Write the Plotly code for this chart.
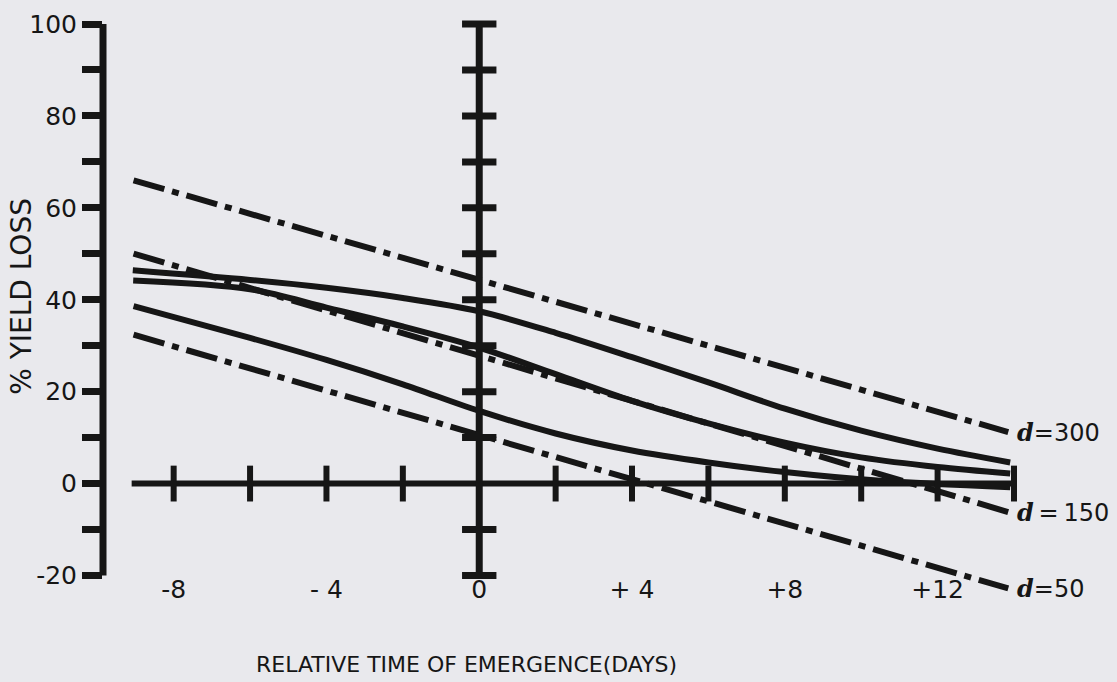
import plotly.graph_objects as go

# ---------------- data ----------------
# predicted (dash-dot) yield-loss lines for three weed densities
densities = [300, 150, 50]
pred_x = [-9.05, 13.85]
pred_300 = [66.0, 11.2]
pred_150 = [50.05, -6.2]
pred_50 = [32.4, -22.8]

# observed (solid) curves
obs_x_300 = [-9.07, -6, -4, -2, 0, 2, 4, 6, 8, 10, 12, 13.9]
obs_300 = [46.4, 44.3, 42.6, 40.4, 37.5, 32.8, 27.5, 22.0, 16.3, 11.5, 7.6, 4.6]
obs_x_150 = [-9.06, -6, -4, -2, 0, 2, 4, 6, 8, 10, 12, 13.9]
obs_150 = [44.2, 42.3, 38.3, 34.2, 29.6, 23.8, 18.0, 13.1, 8.9, 5.7, 3.6, 2.2]
obs_x_50 = [-9.05, -6, -4, -2, 0, 2, 4, 6, 8, 10.5, 13.9]
obs_50 = [38.6, 31.7, 26.9, 21.6, 15.8, 10.9, 7.2, 4.6, 2.5, 0.6, -0.8]

# axes
y_ticks = [-20, -10, 0, 10, 20, 30, 40, 50, 60, 70, 80, 90, 100]
y_ticktext = ["-20", "", "0", "", "20", "", "40", "", "60", "", "80", "", "100"]
x_label_vals = [-8, -4, 0, 4, 8, 12]
x_label_text = ["-8", "- 4", "0", "+ 4", "+8", "+12"]
cross_x_ticks = [-8, -6, -4, -2, 2, 4, 6, 8, 10, 12, 14]
cross_y_ticks = [-20, -10, 10, 20, 30, 40, 50, 60, 70, 80, 90, 100]
cross_x_extent = [-9.1, 14]
cross_y_extent = [-20, 100]

x_title = "RELATIVE TIME OF EMERGENCE(DAYS)"
y_title = "% YIELD LOSS"

INK = "#161616"
BG = "#e9e9ed"
FONT = "DejaVu Sans"

fig = go.Figure()

pred_sets = [pred_300, pred_150, pred_50]
for d, ys in zip(densities, pred_sets):
    fig.add_trace(go.Scatter(
        x=pred_x, y=ys, mode="lines", name=f"predicted d={d}",
        line=dict(color=INK, width=6, dash="32px,8px,7px,8px"),
        hoverinfo="skip"))

for d, xs, ys in [(300, obs_x_300, obs_300), (150, obs_x_150, obs_150), (50, obs_x_50, obs_50)]:
    fig.add_trace(go.Scatter(
        x=xs, y=ys, mode="lines", name=f"observed d={d}",
        line=dict(color=INK, width=6, shape="spline", smoothing=0.9),
        hoverinfo="skip"))

shapes = []
# left y axis line (from -20 to 100)
shapes.append(dict(type="line", xref="paper", yref="y", x0=0, x1=0,
                   y0=y_ticks[0], y1=y_ticks[-1], line=dict(color=INK, width=7)))
# horizontal cross axis at y = 0
shapes.append(dict(type="line", xref="x", yref="y", x0=cross_x_extent[0], x1=cross_x_extent[1],
                   y0=0, y1=0, line=dict(color=INK, width=6)))
for t in cross_x_ticks:
    shapes.append(dict(type="line", xref="x", yref="y", x0=t, x1=t, y0=-3.9, y1=3.9,
                       line=dict(color=INK, width=6)))
# vertical cross axis at x = 0
shapes.append(dict(type="line", xref="x", yref="y", x0=0, x1=0,
                   y0=cross_y_extent[0], y1=cross_y_extent[1], line=dict(color=INK, width=7)))
for t in cross_y_ticks:
    shapes.append(dict(type="line", xref="x", yref="y", x0=-0.45, x1=0.45, y0=t, y1=t,
                       line=dict(color=INK, width=7)))

annotations = []
seps = {300: "=", 150: "\u2009=\u2009", 50: "="}
for d, ys in zip(densities, pred_sets):
    annotations.append(dict(
        x=pred_x[-1], y=ys[-1], xref="x", yref="y", xanchor="left", yanchor="middle",
        xshift=7, showarrow=False,
        text=f"<span style='font-family:DejaVu Serif'><b><i>d</i></b></span>{seps[d]}{d}",
        font=dict(family=FONT, size=24, color=INK)))
annotations.append(dict(
    x=0.39, y=-0.083, xref="paper", yref="paper", xanchor="center", yanchor="middle",
    showarrow=False, text=x_title, font=dict(family=FONT, size=22, color=INK)))
annotations.append(dict(
    x=-0.087, y=0.53, xref="paper", yref="paper", xanchor="center", yanchor="middle",
    showarrow=False, textangle=-90, text=y_title, font=dict(family=FONT, size=28, color=INK)))

fig.update_layout(
    width=1117, height=682,
    margin=dict(l=103, r=82, t=10, b=67),
    paper_bgcolor=BG, plot_bgcolor=BG,
    showlegend=False,
    shapes=shapes,
    annotations=annotations,
    xaxis=dict(range=[-9.85, 14.55], showgrid=False, zeroline=False, showline=False,
               ticks="", tickvals=x_label_vals, ticktext=x_label_text,
               tickfont=dict(family=FONT, size=25, color=INK),
               anchor="free", position=0.072),
    yaxis=dict(range=[-28.6, 102.4], showgrid=False, zeroline=False, showline=False,
               ticks="outside", ticklen=20, tickwidth=7, tickcolor=INK,
               tickvals=y_ticks, ticktext=y_ticktext,
               tickfont=dict(family=FONT, size=25, color=INK)),
)

fig.write_html("out.html", config={"displayModeBar": False},
               post_script="document.body.style.margin='0px';document.body.style.overflow='hidden';")
